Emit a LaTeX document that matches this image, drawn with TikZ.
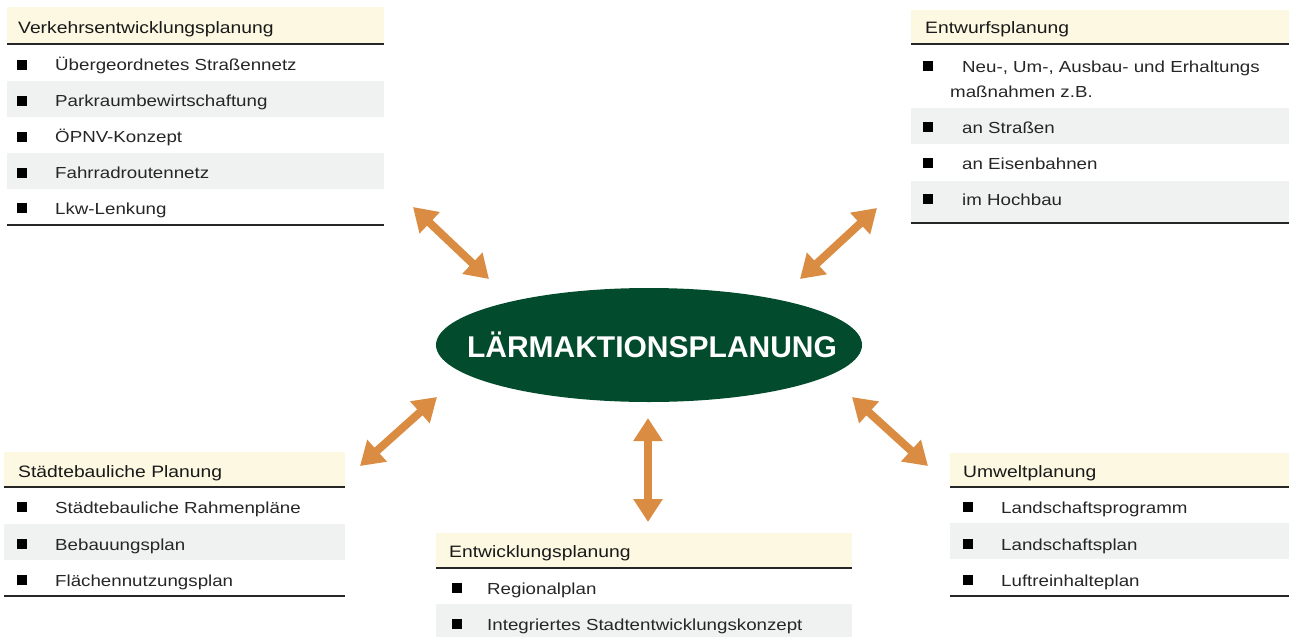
\documentclass[tikz,border=0pt]{standalone}
\usepackage{fontspec}
\setmainfont{Liberation Sans}
\newfontfamily\bodyfont[FakeStretch=1.17]{Liberation Sans}
\usetikzlibrary{arrows.meta,shapes.geometric}
\definecolor{cream}{HTML}{FDF8E2}
\definecolor{rowgrey}{HTML}{F0F1F1}
\definecolor{dgreen}{HTML}{034B2D}
\definecolor{orangearr}{HTML}{D98C42}
\tikzset{
 hdrfill/.style={fill=cream},
 rowfill/.style={fill=rowgrey},
 rule/.style={draw=black!85, line width=1.6pt},
 hdrtext/.style={anchor=base west, inner sep=0pt, font=\bodyfont\fontsize{16.5}{19}\selectfont, text=black!90},
 itemtext/.style={anchor=base west, inner sep=0pt, font=\bodyfont\fontsize{16}{19}\selectfont, text=black!85},
 bul/.style={fill=black, minimum size=10pt, inner sep=0pt},
 dblarrow/.style={draw=orangearr, line width=8pt, {Triangle[width=28pt,length=23pt]}-{Triangle[width=28pt,length=23pt]}},
 mainell/.style={ellipse, fill=dgreen, minimum width=426pt, minimum height=114pt, inner sep=0pt},
 maintext/.style={inner sep=0pt, text=white, font=\bfseries\fontsize{30}{34}\selectfont},
}
\begin{document}
\begin{tikzpicture}[x=1pt,y=-1pt]
\useasboundingbox (0,0) rectangle (1289,637);

% ---------- Box 1: Verkehrsentwicklungsplanung
\fill[hdrfill] (7,7) rectangle (384,44);
\fill[rowfill] (7,81) rectangle (384,117);
\fill[rowfill] (7,153) rectangle (384,189);
\draw[rule] (7,44) -- (384,44);
\draw[rule] (7,225) -- (384,225);
\node[hdrtext] (h1) at (18,33) {Verkehrsentwicklungsplanung};
\node[bul] (b11) at (22,64.5) {};
\node[itemtext] (t11) at (55,70.5) {Übergeordnetes Straßennetz};
\node[bul] (b12) at (22,100.5) {};
\node[itemtext] (t12) at (55,106.5) {Parkraumbewirtschaftung};
\node[bul] (b13) at (22,136.5) {};
\node[itemtext] (t13) at (55,142.5) {ÖPNV-Konzept};
\node[bul] (b14) at (22,172.5) {};
\node[itemtext] (t14) at (55,178.5) {Fahrradroutennetz};
\node[bul] (b15) at (22,208) {};
\node[itemtext] (t15) at (55,214) {Lkw-Lenkung};

% ---------- Box 2: Entwurfsplanung
\fill[hdrfill] (911,10) rectangle (1289,44);
\fill[rowfill] (911,108) rectangle (1289,144);
\fill[rowfill] (911,181) rectangle (1289,222);
\draw[rule] (911,44) -- (1289,44);
\draw[rule] (911,223) -- (1289,223);
\node[hdrtext] (h2) at (925,33) {Entwurfsplanung};
\node[bul] (b21) at (927.5,66) {};
\node[itemtext] (t21) at (962,72) {Neu-, Um-, Ausbau- und Erhaltungs};
\node[itemtext] (t21b) at (950,97) {maßnahmen z.B.};
\node[bul] (b22) at (927.5,127) {};
\node[itemtext] (t22) at (962,133) {an Straßen};
\node[bul] (b23) at (927.5,163) {};
\node[itemtext] (t23) at (962,169) {an Eisenbahnen};
\node[bul] (b24) at (927.5,199) {};
\node[itemtext] (t24) at (962,205) {im Hochbau};

% ---------- Box 3: Städtebauliche Planung
\fill[hdrfill] (4,452) rectangle (345,487);
\fill[rowfill] (4,524) rectangle (345,560);
\draw[rule] (4,487) -- (345,487);
\draw[rule] (4,596) -- (345,596);
\node[hdrtext] (h3) at (18,477) {Städtebauliche Planung};
\node[bul] (b31) at (22,507) {};
\node[itemtext] (t31) at (55,513) {Städtebauliche Rahmenpläne};
\node[bul] (b32) at (22,544) {};
\node[itemtext] (t32) at (55,550) {Bebauungsplan};
\node[bul] (b33) at (22,580) {};
\node[itemtext] (t33) at (55,586) {Flächennutzungsplan};

% ---------- Box 4: Entwicklungsplanung
\fill[hdrfill] (436,533) rectangle (852,568);
\fill[rowfill] (436,604) rectangle (852,637);
\draw[rule] (436,568) -- (852,568);
\node[hdrtext] (h4) at (449,557) {Entwicklungsplanung};
\node[bul] (b41) at (457,588) {};
\node[itemtext] (t41) at (487,594) {Regionalplan};
\node[bul] (b42) at (457,624) {};
\node[itemtext] (t42) at (487,630) {Integriertes Stadtentwicklungskonzept};

% ---------- Box 5: Umweltplanung
\fill[hdrfill] (950,453) rectangle (1289,487);
\fill[rowfill] (950,523) rectangle (1289,559);
\draw[rule] (950,487) -- (1289,487);
\draw[rule] (950,596) -- (1289,596);
\node[hdrtext] (h5) at (963,477) {Umweltplanung};
\node[bul] (b51) at (967.5,507) {};
\node[itemtext] (t51) at (1001,513) {Landschaftsprogramm};
\node[bul] (b52) at (967.5,544) {};
\node[itemtext] (t52) at (1001,550) {Landschaftsplan};
\node[bul] (b53) at (967.5,580) {};
\node[itemtext] (t53) at (1001,586) {Luftreinhalteplan};

% ---------- Centre
\node[mainell] (main) at (649,345) {};
\node[maintext] (maint) at (652,345) {LÄRMAKTIONSPLANUNG};

% ---------- Arrows
\coordinate (a1o) at (413,207); \coordinate (a1i) at (489,279);
\coordinate (a2o) at (877,208); \coordinate (a2i) at (800,279);
\coordinate (a3o) at (360,466); \coordinate (a3i) at (437,397);
\coordinate (a4o) at (928,466); \coordinate (a4i) at (852,397);
\coordinate (a5o) at (648,522); \coordinate (a5i) at (648,418);
\draw[dblarrow] (a1o) -- (a1i);
\draw[dblarrow] (a2o) -- (a2i);
\draw[dblarrow] (a3o) -- (a3i);
\draw[dblarrow] (a4o) -- (a4i);
\draw[dblarrow] (a5o) -- (a5i);
\end{tikzpicture}
\end{document}
